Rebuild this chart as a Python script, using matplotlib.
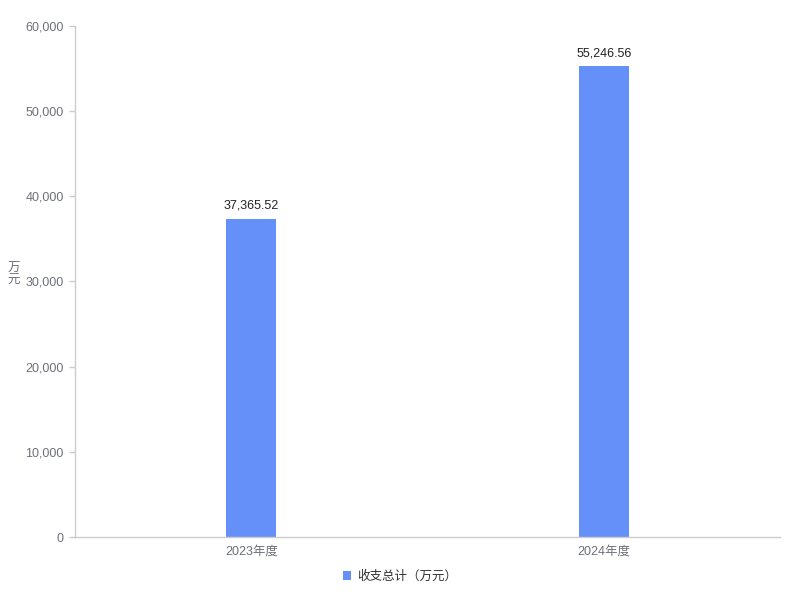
import matplotlib
matplotlib.use("Agg")
import matplotlib.pyplot as plt
from matplotlib.ticker import FuncFormatter

plt.rcParams["font.family"] = ["Liberation Sans", "Noto Sans CJK SC", "DejaVu Sans"]

CATS = ["2023年度", "2024年度"]
VALUES = [37365.52, 55246.56]
SERIES = "收支总计（万元）"
COLOR = "#6690F9"
AXIS_C = "#CCCCCC"
TEXT_C = "#6E7079"

fig = plt.figure(figsize=(8, 6), dpi=100)
ax = fig.add_axes([0.09375, 0.105, 0.88125, 0.8517])

x = list(range(len(CATS)))
bars = ax.bar(x, VALUES, width=0.142, color=COLOR, label=SERIES)
for b, v in zip(bars, VALUES):
    ax.annotate(f"{v:,.2f}", (b.get_x() + b.get_width() / 2, v),
                xytext=(0, 5), textcoords="offset points",
                ha="center", va="bottom", fontsize=9, color="#222222")

ax.set_xlim(-0.5, len(CATS) - 0.5)
ax.set_ylim(0, 60000)
ax.set_yticks(range(0, 60001, 10000))
ax.yaxis.set_major_formatter(FuncFormatter(lambda v, p: f"{v:,.0f}"))
ax.set_xticks(x)
ax.set_xticklabels(CATS)

for s in ["top", "right"]:
    ax.spines[s].set_visible(False)
for s in ["left", "bottom"]:
    ax.spines[s].set_color(AXIS_C)
    ax.spines[s].set_linewidth(1)
ax.tick_params(axis="y", colors=AXIS_C, labelcolor=TEXT_C, labelsize=9,
               length=4, width=1, pad=4)
ax.tick_params(axis="x", length=0, labelcolor=TEXT_C, labelsize=9, pad=6)

fig.text(14 / 800, 1 - 275 / 600, "万\n元", ha="center", va="center",
         fontsize=9, color=TEXT_C, linespacing=1.0)

leg = fig.legend(loc="center", bbox_to_anchor=(0.5, 1 - 577 / 600), frameon=False,
                 fontsize=9, handlelength=0.7, handleheight=0.7, handletextpad=0.5)
for t in leg.get_texts():
    t.set_color("#333333")

fig.savefig("out.png", dpi=100)
